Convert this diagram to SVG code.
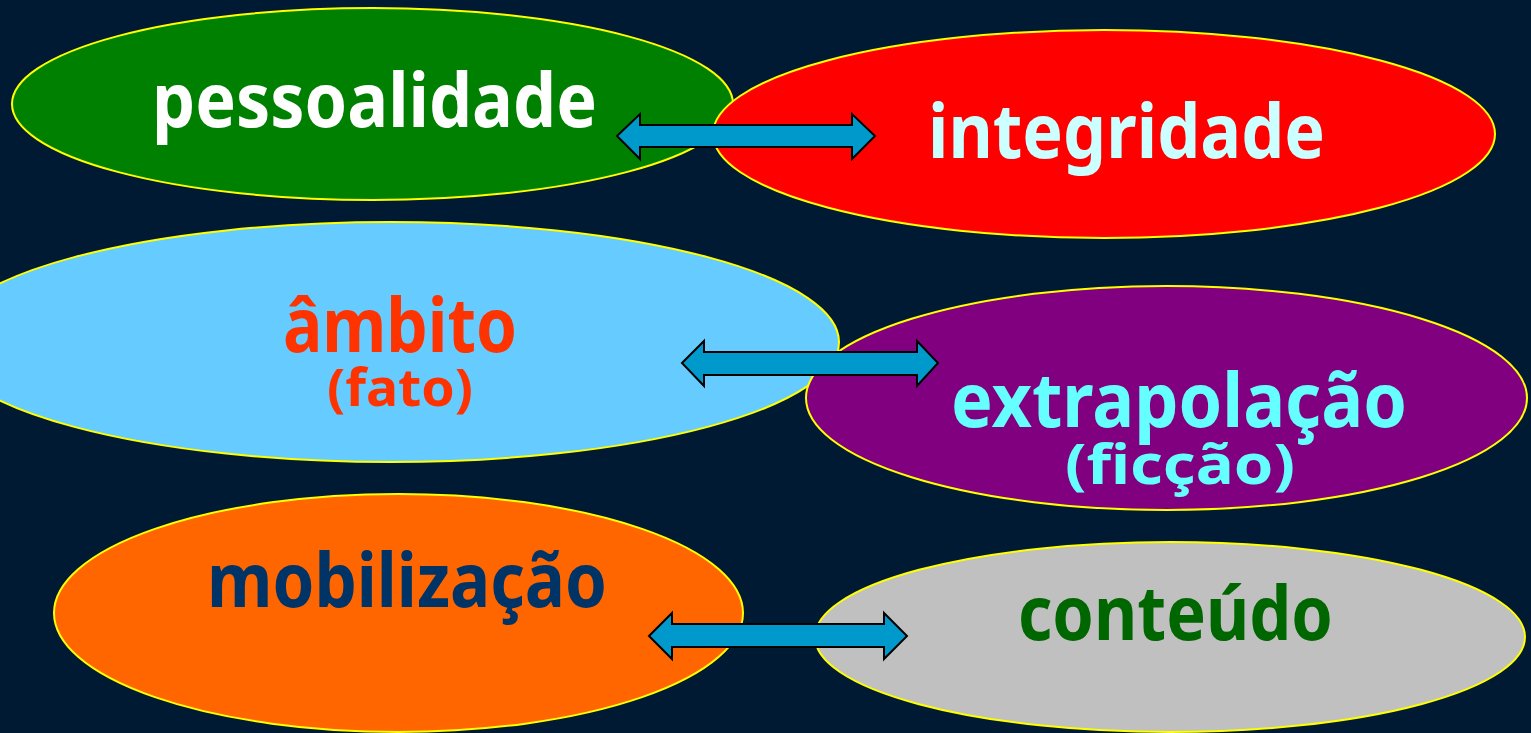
<svg xmlns="http://www.w3.org/2000/svg" width="1531" height="733" viewBox="0 0 1531 733">
  <style>
    .node { stroke: #FFFF00; stroke-width: 2; }
    .lbl { font-family: "Comic Sans MS", "Noto Sans", "DejaVu Sans", sans-serif; font-weight: bold; font-size: 76px; }
    .sub { font-size: 52px; }
    .arrow { fill: #0099CC; stroke: #000000; stroke-width: 2; stroke-linejoin: miter; }
  </style>
  <rect x="0" y="0" width="1531" height="733" fill="#001A33"/>

  <g id="node-pessoalidade">
    <ellipse class="node" cx="372.5" cy="104" rx="360.5" ry="96" fill="#008000"/>
    <text class="lbl" x="152" y="127" fill="#FFFFFF" textLength="445" lengthAdjust="spacingAndGlyphs">pessoalidade</text>
  </g>
  <g id="node-integridade">
    <ellipse class="node" cx="1104" cy="134" rx="391" ry="104" fill="#FF0000"/>
    <text class="lbl" x="928" y="158" fill="#CCFFFF" textLength="397" lengthAdjust="spacingAndGlyphs">integridade</text>
  </g>
  <g id="node-ambito">
    <ellipse class="node" cx="391" cy="342" rx="448" ry="120" fill="#66CCFF"/>
    <text class="lbl" x="283" y="352" fill="#FF3300" textLength="234" lengthAdjust="spacingAndGlyphs">âmbito</text>
    <text class="lbl sub" x="327" y="406" fill="#FF3300" textLength="146" lengthAdjust="spacingAndGlyphs">(fato)</text>
  </g>
  <g id="node-extrapolacao">
    <ellipse class="node" cx="1166.5" cy="398" rx="360.5" ry="112" fill="#800080"/>
    <text class="lbl" x="951" y="427" fill="#66FFFF" textLength="456" lengthAdjust="spacingAndGlyphs">extrapolação</text>
    <text class="lbl sub" x="1065" y="484" fill="#66FFFF" font-size="56" textLength="230" lengthAdjust="spacingAndGlyphs" style="font-size:56px">(ficção)</text>
  </g>
  <g id="node-mobilizacao">
    <ellipse class="node" cx="398.5" cy="613" rx="344.5" ry="119" fill="#FF6600"/>
    <text class="lbl" x="207" y="607" fill="#003366" textLength="400" lengthAdjust="spacingAndGlyphs">mobilização</text>
  </g>
  <g id="node-conteudo">
    <ellipse class="node" cx="1170" cy="637" rx="355" ry="95" fill="#C0C0C0"/>
    <text class="lbl" x="1018" y="640" fill="#006600" textLength="315" lengthAdjust="spacingAndGlyphs">conteúdo</text>
  </g>

  <g id="connectors">
    <polygon class="arrow" points="617,136 640,114 640,125 852,125 852,114 875,136 852,159 852,147 640,147 640,159"/>
    <polygon class="arrow" points="682,363 704,341 704,352 917,352 917,341 938,363 917,386 917,375 704,375 704,386"/>
    <polygon class="arrow" points="649,636 672,613 672,624 884,624 884,613 907,636 884,659 884,647 672,647 672,659"/>
  </g>
</svg>
